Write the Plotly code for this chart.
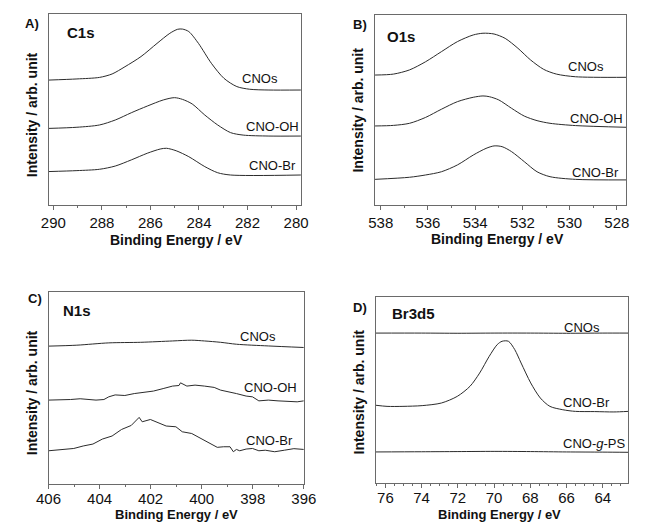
import plotly.graph_objects as go

# ---------------- data (binding energy in eV, intensity in arb. units) ----------------
# Panel A: C1s
c1s_cnos_x = [290.2, 289.03, 288.1, 287.58, 287.05, 286.39, 285.73, 285.2, 284.88, 284.68, 284.42, 284.02, 283.49, 282.97, 282.44, 281.91, 281.12, 279.8]
c1s_cnos_y = [65.4, 66.0, 66.8, 68.6, 72.4, 77.7, 84.6, 89.9, 92.0, 92.1, 90.8, 84.6, 74.2, 66.3, 62.0, 60.6, 60.2, 60.2]
c1s_oh_x = [290.2, 289.03, 288.1, 287.45, 286.79, 286.13, 285.47, 285.01, 284.68, 284.28, 283.76, 283.23, 282.7, 282.18, 281.12, 279.8]
c1s_oh_y = [40.1, 40.7, 41.9, 44.5, 48.3, 51.8, 55.0, 56.2, 55.3, 52.9, 47.1, 41.9, 37.9, 36.6, 36.1, 36.1]
c1s_br_x = [290.2, 289.03, 288.1, 287.45, 286.79, 286.13, 285.6, 285.34, 284.94, 284.42, 283.76, 283.23, 282.7, 279.8]
c1s_br_y = [17.5, 18.0, 18.7, 20.4, 23.6, 27.1, 29.3, 29.7, 28.4, 25.3, 20.1, 16.9, 15.7, 15.7]

# Panel B: O1s
o1s_cnos_x = [538.24, 537.46, 536.78, 536.1, 535.43, 534.75, 534.08, 533.67, 533.2, 532.73, 532.19, 531.65, 531.1, 530.56, 529.75, 527.6]
o1s_cnos_y = [68.4, 68.9, 71.1, 75.4, 80.7, 86.0, 89.5, 90.4, 90.0, 87.7, 82.5, 76.3, 71.4, 68.9, 67.5, 67.2]
o1s_oh_x = [538.24, 537.46, 536.78, 536.1, 535.43, 534.75, 534.08, 533.67, 533.4, 533.0, 532.46, 531.92, 531.38, 530.83, 529.75, 527.6]
o1s_oh_y = [41.6, 41.9, 43.0, 46.1, 50.4, 54.4, 56.7, 57.4, 57.0, 55.3, 50.9, 46.8, 44.4, 43.0, 41.8, 40.9]
o1s_br_x = [538.24, 536.78, 536.1, 535.43, 534.75, 534.08, 533.54, 533.2, 532.86, 532.46, 531.92, 531.38, 530.83, 529.75, 527.6]
o1s_br_y = [13.5, 14.6, 15.8, 17.5, 21.1, 26.3, 29.8, 31.1, 30.7, 28.1, 22.8, 17.5, 14.9, 13.5, 13.2]

# Panel C: N1s
n1s_cnos_x = [406.0, 404.89, 403.64, 402.39, 401.14, 400.39, 399.89, 399.26, 398.64, 397.39, 396.0]
n1s_cnos_y = [71.8, 72.3, 73.5, 73.8, 74.5, 74.9, 74.5, 73.8, 72.8, 71.9, 71.1]
n1s_oh_x = [406.0, 405.51, 405.14, 404.76, 404.39, 404.14, 403.83, 403.64, 403.39, 403.01, 402.64, 402.26, 401.89, 401.51, 401.14, 400.89, 400.83, 400.58, 400.26, 399.89, 399.51, 399.26, 398.89, 398.64, 398.26, 398.01, 397.76, 397.39, 397.01, 396.64, 396.26, 396.0]
n1s_oh_y = [43.7, 43.7, 44.0, 44.4, 44.2, 43.7, 44.0, 45.4, 46.4, 46.1, 47.1, 47.8, 48.4, 49.7, 51.0, 51.3, 52.7, 51.0, 51.5, 51.0, 50.3, 48.9, 48.0, 47.1, 45.8, 45.4, 43.3, 43.7, 43.3, 43.0, 42.8, 43.3]
n1s_br_x = [406.0, 405.51, 405.01, 404.64, 404.26, 403.89, 403.51, 403.14, 402.76, 402.45, 402.33, 402.01, 401.64, 401.39, 401.01, 400.76, 400.39, 400.14, 399.76, 399.39, 399.14, 398.89, 398.76, 398.64, 398.51, 398.26, 398.01, 397.76, 397.51, 397.14, 396.76, 396.39, 396.0]
n1s_br_y = [17.3, 18.0, 18.5, 19.8, 20.8, 23.4, 25.0, 28.4, 30.5, 34.7, 32.4, 33.6, 31.5, 30.2, 29.8, 27.2, 26.3, 24.6, 22.0, 19.1, 19.4, 19.4, 16.8, 18.0, 17.3, 18.2, 18.5, 17.3, 17.6, 16.8, 17.6, 18.4, 18.0]

# Panel D: Br3d5
br_cnos_x = [76.53, 74.0, 72.0, 70.0, 68.0, 66.0, 64.0, 62.6]
br_cnos_y = [80.6, 80.6, 80.5, 80.6, 80.6, 80.5, 80.6, 80.6]
br_br_x = [76.53, 75.91, 75.03, 73.97, 72.91, 72.03, 71.33, 70.8, 70.27, 69.83, 69.56, 69.21, 68.86, 68.51, 67.98, 67.45, 66.92, 66.21, 65.51, 64.45, 63.39, 62.6]
br_br_y = [41.8, 41.2, 41.2, 41.6, 43.0, 46.6, 52.0, 59.1, 68.1, 74.4, 76.2, 76.2, 71.7, 64.5, 53.8, 45.7, 41.2, 39.4, 38.5, 38.4, 38.2, 38.5]
br_ps_x = [76.53, 74.0, 72.0, 70.0, 68.0, 66.0, 64.0, 62.6]
br_ps_y = [16.7, 16.8, 16.9, 17.0, 16.9, 16.7, 16.6, 16.5]

series_labels_abc = ["CNOs", "CNO-OH", "CNO-Br"]
series_labels_d = ["CNOs", "CNO-Br", "CNO-<i>g</i>-PS"]
panel_letters = ["A)", "B)", "C)", "D)"]
panel_elements = ["C1s", "O1s", "N1s", "Br3d5"]
x_title = "Binding Energy / eV"
y_title = "Intensity / arb. unit"

# ---------------- figure ----------------
W, H = 646, 522
FONT = "Liberation Sans, Arial, sans-serif"
LINE = "#2b2b2b"
FRAME = "#6a6a6a"

fig = go.Figure()

def add_line(x, y, ax, shape="spline"):
    fig.add_trace(go.Scatter(x=x, y=y, mode="lines", xaxis="x" + ax, yaxis="y" + ax,
                             line=dict(color=LINE, width=1, shape=shape, smoothing=0.8),
                             showlegend=False, hoverinfo="skip"))

add_line(c1s_cnos_x, c1s_cnos_y, "")
add_line(c1s_oh_x, c1s_oh_y, "")
add_line(c1s_br_x, c1s_br_y, "")
add_line(o1s_cnos_x, o1s_cnos_y, "2")
add_line(o1s_oh_x, o1s_oh_y, "2")
add_line(o1s_br_x, o1s_br_y, "2")
add_line(n1s_cnos_x, n1s_cnos_y, "3")
add_line(n1s_oh_x, n1s_oh_y, "3", shape="linear")
add_line(n1s_br_x, n1s_br_y, "3", shape="linear")
add_line(br_cnos_x, br_cnos_y, "4")
add_line(br_br_x, br_br_y, "4")
add_line(br_ps_x, br_ps_y, "4")

def px_x(p):
    return p / W

def px_y(p):
    return 1 - p / H

panels = [
    # (axis suffix, x px [l, r], y px [top, bottom], x range, dtick, minor dtick, label standoff)
    ("", (37, 300), (14, 205), [290.2, 279.8], 2, 1, 0),
    ("2", (377, 639), (15, 205), [538.25, 527.6], 2, 1, 0),
    ("3", (37, 303), (292, 484), [406.0, 396.0], 2, 1, -3),
    ("4", (378, 641), (297, 483), [76.53, 62.6], 2, 0.5, -3),
]

layout = dict(width=W, height=H, margin=dict(l=0, r=0, t=0, b=0),
              paper_bgcolor="white", plot_bgcolor="white", showlegend=False,
              font=dict(family=FONT, color="#111"))

for suf, (xl, xr), (yt, yb), xr_, dt, mdt, so in panels:
    xa = "xaxis" + suf
    ya = "yaxis" + suf
    layout[xa] = dict(domain=[px_x(xl), px_x(xr)], range=xr_, anchor="y" + suf,
                      showline=True, mirror=True, linecolor=FRAME, linewidth=1,
                      showgrid=False, zeroline=False,
                      ticks="outside", ticklen=4, tickcolor=FRAME, tickwidth=1,
                      dtick=dt, tick0=0, ticklabelstandoff=so,
                      minor=dict(ticks="outside", ticklen=2, dtick=mdt, tickcolor=FRAME, showgrid=False),
                      tickfont=dict(size=15, family=FONT, color="#111"))
    layout[ya] = dict(domain=[px_y(yb), px_y(yt)], range=[0, 100], anchor="x" + suf,
                      showline=True, mirror=True, linecolor=FRAME, linewidth=1,
                      showgrid=False, zeroline=False, showticklabels=False, ticks="")

fig.update_layout(**layout)

ann = []

def text(x, y, t, size=12, bold=False, angle=0, xanchor="center"):
    ann.append(dict(x=px_x(x), y=px_y(y), xref="paper", yref="paper", text=("<b>%s</b>" % t) if bold else t,
                    showarrow=False, textangle=angle, xanchor=xanchor, yanchor="middle",
                    font=dict(size=size, family=FONT, color="#111")))

# panel letters and element labels
letter_pos = [(20, 23), (362, 25), (23, 298), (362, 307)]
elem_pos = [(54, 33), (388, 36), (50, 310), (393, 313)]
for (lx, ly), t in zip(letter_pos, panel_letters):
    text(lx, ly, t, size=13, bold=True)
for (ex, ey), t in zip(elem_pos, panel_elements):
    text(ex, ey, t, size=15, bold=True, xanchor="left")

# axis titles
ytitle_pos = [(20, 115), (359, 110), (20, 393), (360, 392)]
xtitle_pos = [(170, 240), (505, 239), (170, 514), (507, 514)]
xtitle_size = [14, 14, 13, 13]
for (x, y) in ytitle_pos:
    text(x, y, y_title, size=14, bold=True, angle=-90)
for (x, y), s in zip(xtitle_pos, xtitle_size):
    text(x, y, x_title, size=s, bold=True)

# series labels
lab_a = [(257, 79), (270, 126), (270, 165)]
lab_b = [(597, 67), (608, 118), (607, 172)]
lab_c = [(255, 336), (268, 387), (267, 440)]
lab_d = [(593, 327), (598, 402), (605, 443)]
for pos, labs in ((lab_a, series_labels_abc), (lab_b, series_labels_abc), (lab_c, series_labels_abc), (lab_d, series_labels_d)):
    for (x, y), t in zip(pos, labs):
        text(x, y, t, size=13)

fig.update_layout(annotations=ann)
fig.write_html("out.html", config={"displayModeBar": False},
               post_script="document.body.style.margin='0';document.body.style.padding='0';")
